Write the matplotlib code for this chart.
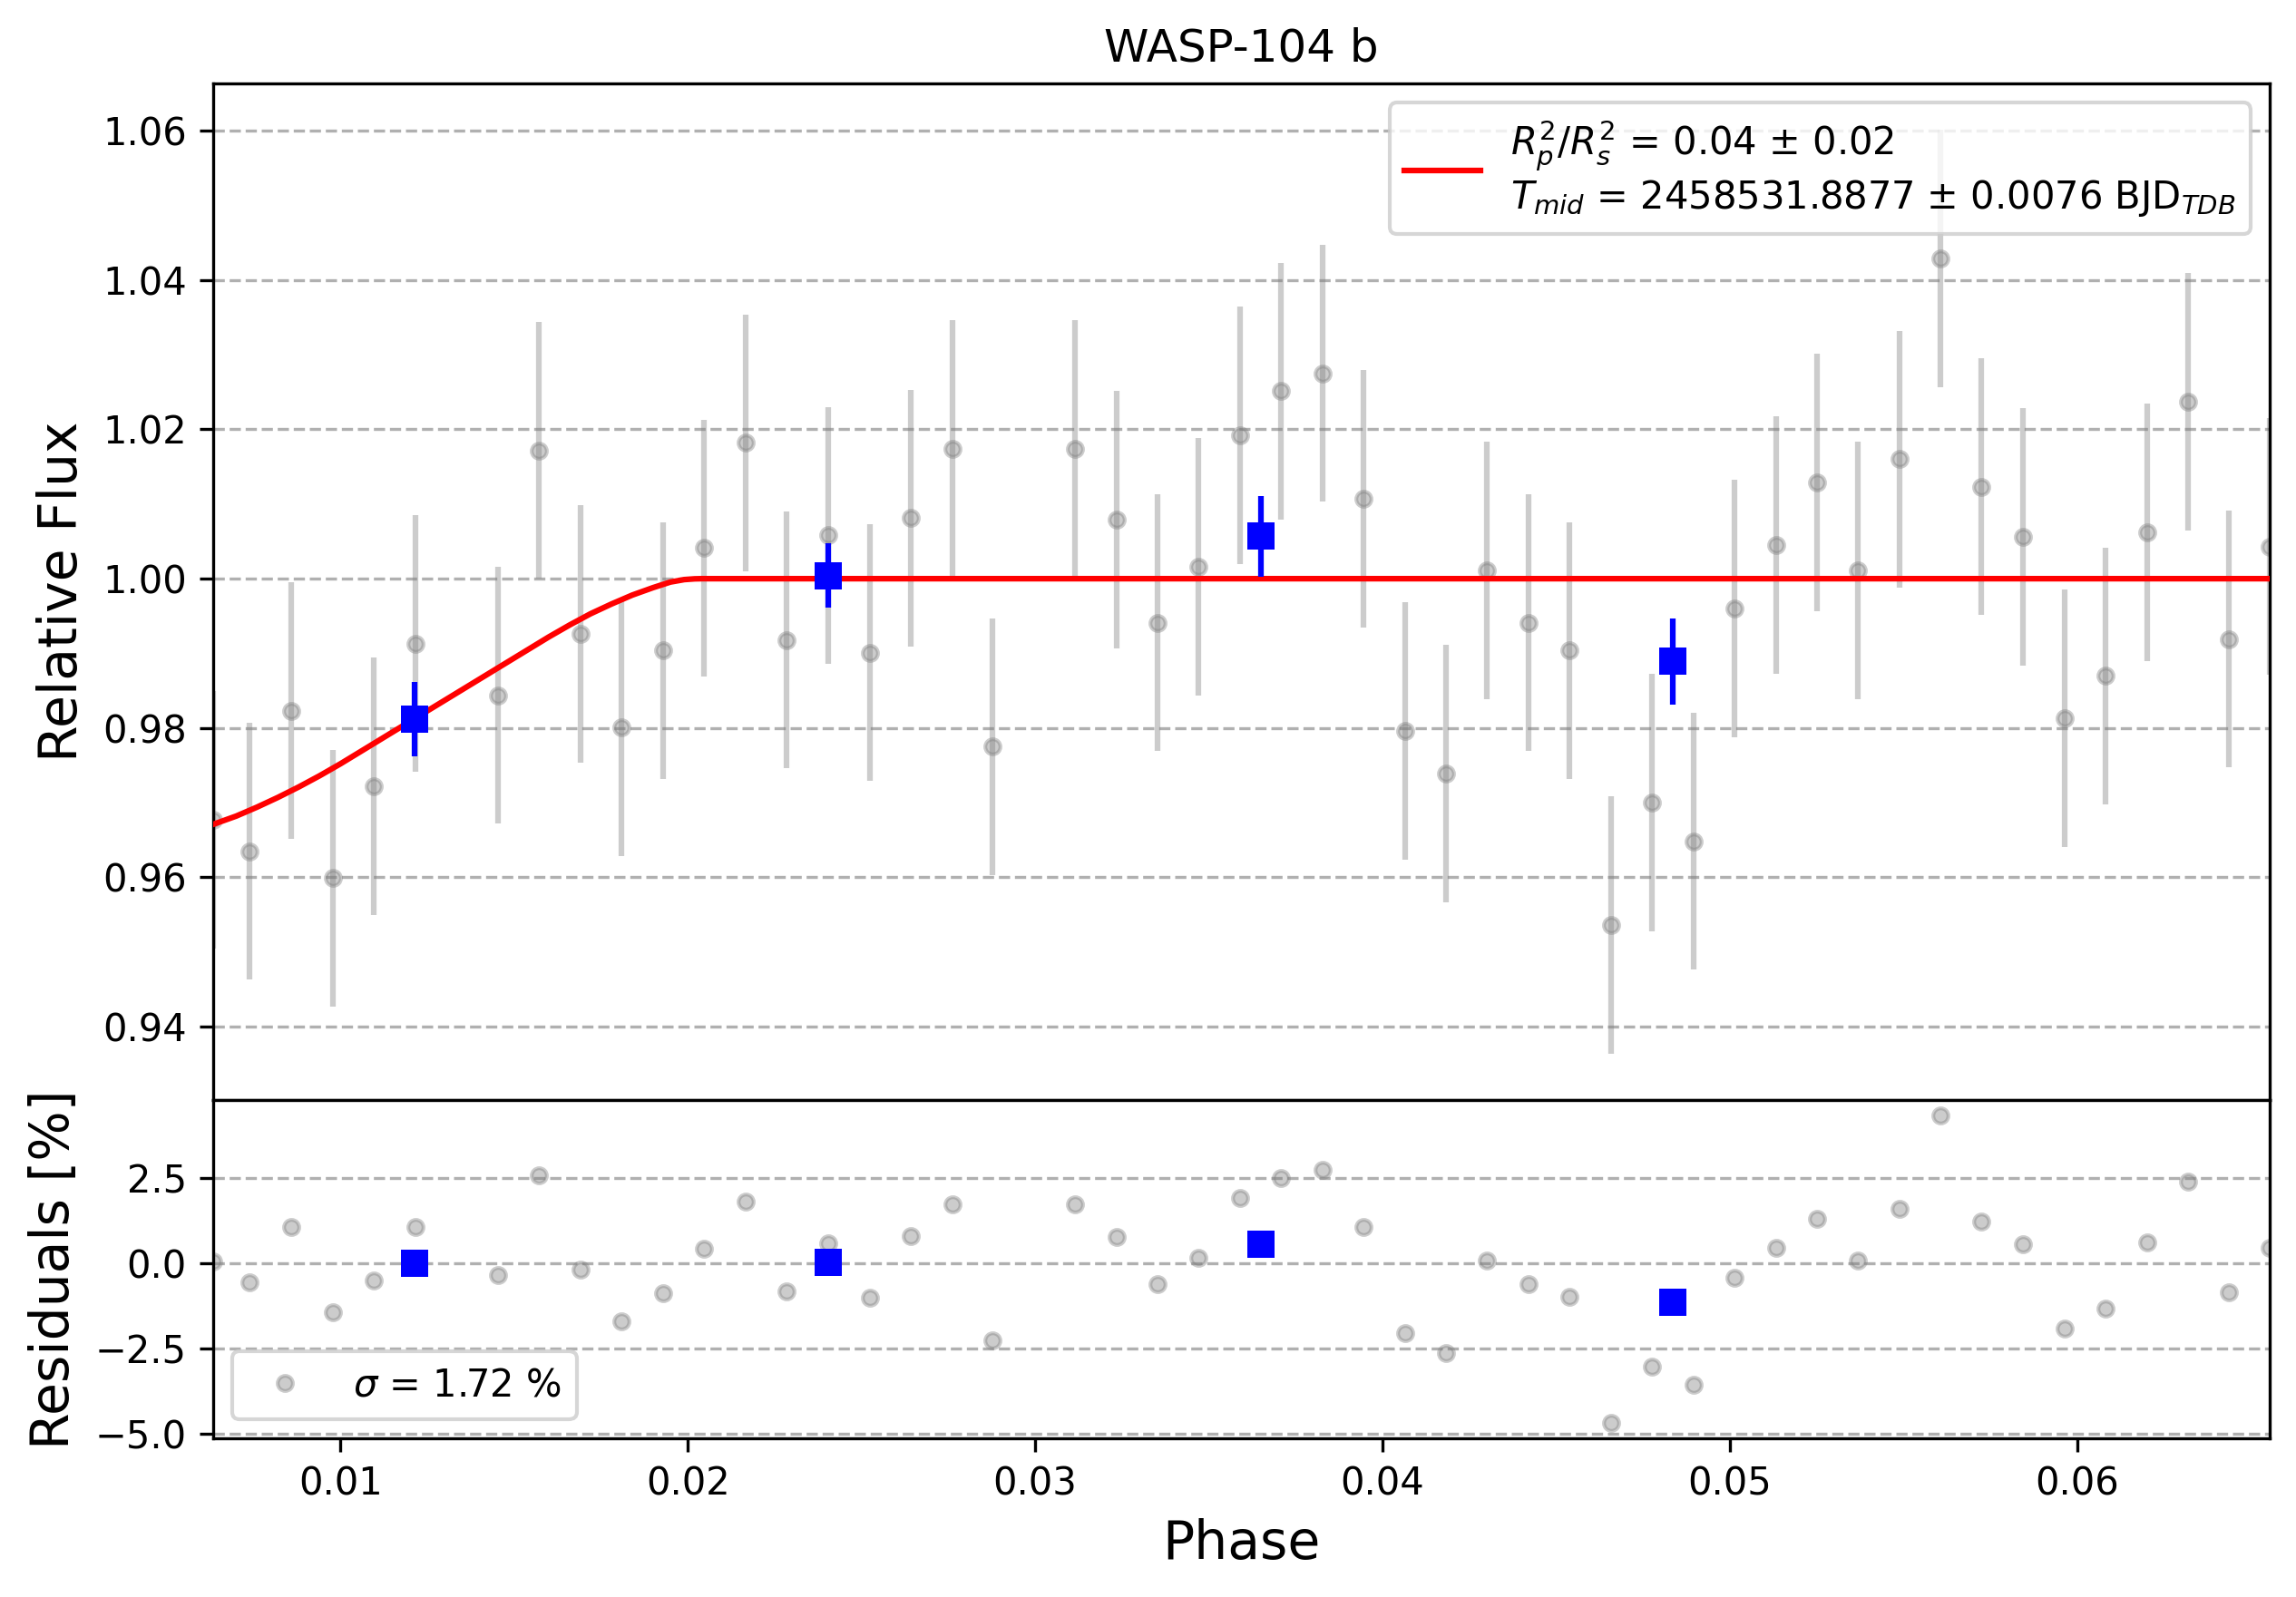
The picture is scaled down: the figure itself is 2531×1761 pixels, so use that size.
import numpy as np
import matplotlib
matplotlib.use("Agg")
import matplotlib.pyplot as plt

# unbinned light curve
phase = [0.00634, 0.00739, 0.00858, 0.00978, 0.01097, 0.01216, 0.01454, 0.01571,
         0.01691, 0.01810, 0.01928, 0.02047, 0.02166, 0.02285, 0.02404, 0.02524,
         0.02641, 0.02761, 0.02878, 0.03115, 0.03235, 0.03352, 0.03470, 0.03590,
         0.03707, 0.03827, 0.03945, 0.04065, 0.04184, 0.04301, 0.04421, 0.04537,
         0.04658, 0.04776, 0.04896, 0.05013, 0.05133, 0.05252, 0.05368, 0.05489,
         0.05606, 0.05725, 0.05844, 0.05963, 0.06082, 0.06201, 0.06319, 0.06438,
         0.06554]
flux = [0.9677, 0.9635, 0.9823, 0.9599, 0.9722, 0.9913, 0.9844, 1.0172,
        0.9926, 0.9801, 0.9904, 1.0041, 1.0182, 0.9918, 1.0058, 0.9901,
        1.0081, 1.0174, 0.9775, 1.0174, 1.0079, 0.9941, 1.0016, 1.0192,
        1.0251, 1.0275, 1.0107, 0.9796, 0.9739, 1.0011, 0.9941, 0.9904,
        0.9536, 0.9700, 0.9648, 0.9960, 1.0045, 1.0129, 1.0011, 1.0160,
        1.0429, 1.0123, 1.0056, 0.9813, 0.9870, 1.0062, 1.0237, 0.9919,
        1.0043]
flux_err = 0.0172
resid = [0.06, -0.56, 1.06, -1.43, -0.52, 1.05, -0.35, 2.56,
         -0.19, -1.70, -0.88, 0.41, 1.81, -0.82, 0.58, -1.00,
         0.80, 1.73, -2.26, 1.73, 0.77, -0.61, 0.16, 1.91,
         2.50, 2.74, 1.06, -2.04, -2.63, 0.08, -0.61, -0.98,
         -4.67, -3.02, -3.56, -0.43, 0.46, 1.30, 0.08, 1.60,
         4.33, 1.22, 0.56, -1.91, -1.33, 0.61, 2.39, -0.86,
         0.44]

# transit model curve
model_phase = [0.00634, 0.0070, 0.0076, 0.0082, 0.0088, 0.0094, 0.0100, 0.0106,
               0.0112, 0.0118, 0.0124, 0.0130, 0.0136, 0.0142, 0.0148, 0.0154,
               0.0160, 0.0166, 0.0172, 0.0178, 0.0184, 0.0190, 0.0195, 0.0199,
               0.0202, 0.0204, 0.06555]
model_flux = [0.9671, 0.9682, 0.9694, 0.9707, 0.9721, 0.9736, 0.9752, 0.9769,
              0.9786, 0.9803, 0.9820, 0.9837, 0.9854, 0.9871, 0.9888, 0.9905,
              0.9922, 0.9938, 0.9953, 0.9966, 0.9978, 0.9988, 0.99955, 0.99988,
              0.99998, 1.0, 1.0]

# binned points
bin_phase = [0.01213, 0.02404, 0.03650, 0.04836]
bin_flux = [0.9812, 1.0004, 1.0057, 0.9889]
bin_err = [0.0050, 0.0043, 0.0054, 0.0058]
bin_resid = [0.00, 0.03, 0.56, -1.14]

fig, (ax_lc, ax_res) = plt.subplots(2, 1, figsize=(2531 / 300, 1761 / 300), dpi=300,
                                    gridspec_kw={'height_ratios': [3, 1]}, sharex=True)
fig.subplots_adjust(left=0.0929, right=0.9885, top=0.9475, bottom=0.0994, hspace=0)

ax_lc.set_title('WASP-104 b')
ax_lc.errorbar(phase, flux, yerr=flux_err, ls='none', marker='o', color='gray',
               markersize=4, alpha=0.4)
ax_lc.plot(model_phase, model_flux, 'r', zorder=1000,
           label='$R_{p}^{2}/R_{s}^{2}$ = 0.04 $\\pm$ 0.02\n'
                 '$T_{mid}$ = 2458531.8877 $\\pm$ 0.0076 BJD$_{TDB}$')
ax_lc.errorbar(bin_phase, bin_flux, yerr=bin_err, fmt='s', ms=7, mfc='b', mec='None',
               ecolor='b', zorder=1001)
ax_lc.set_ylabel('Relative Flux', fontsize=14)
ax_lc.grid(True, ls='--', axis='y')
ax_lc.legend(loc='upper right')
ax_lc.tick_params(axis='x', bottom=False, labelbottom=False)

ax_res.plot(phase, resid, marker='o', color='gray', ls='none', markersize=4, alpha=0.4,
            label='$\\sigma$ = 1.72 %')
ax_res.plot(bin_phase, bin_resid, 's', ms=7, mfc='b', mec='None', zorder=1000)
ax_res.set_ylabel('Residuals [%]', fontsize=14)
ax_res.set_xlabel('Phase', fontsize=14)
ax_res.grid(True, ls='--', axis='y')
ax_res.legend(loc='lower left')
ax_res.set_xlim(min(phase), max(phase))

fig.savefig('out.png', dpi=300)
